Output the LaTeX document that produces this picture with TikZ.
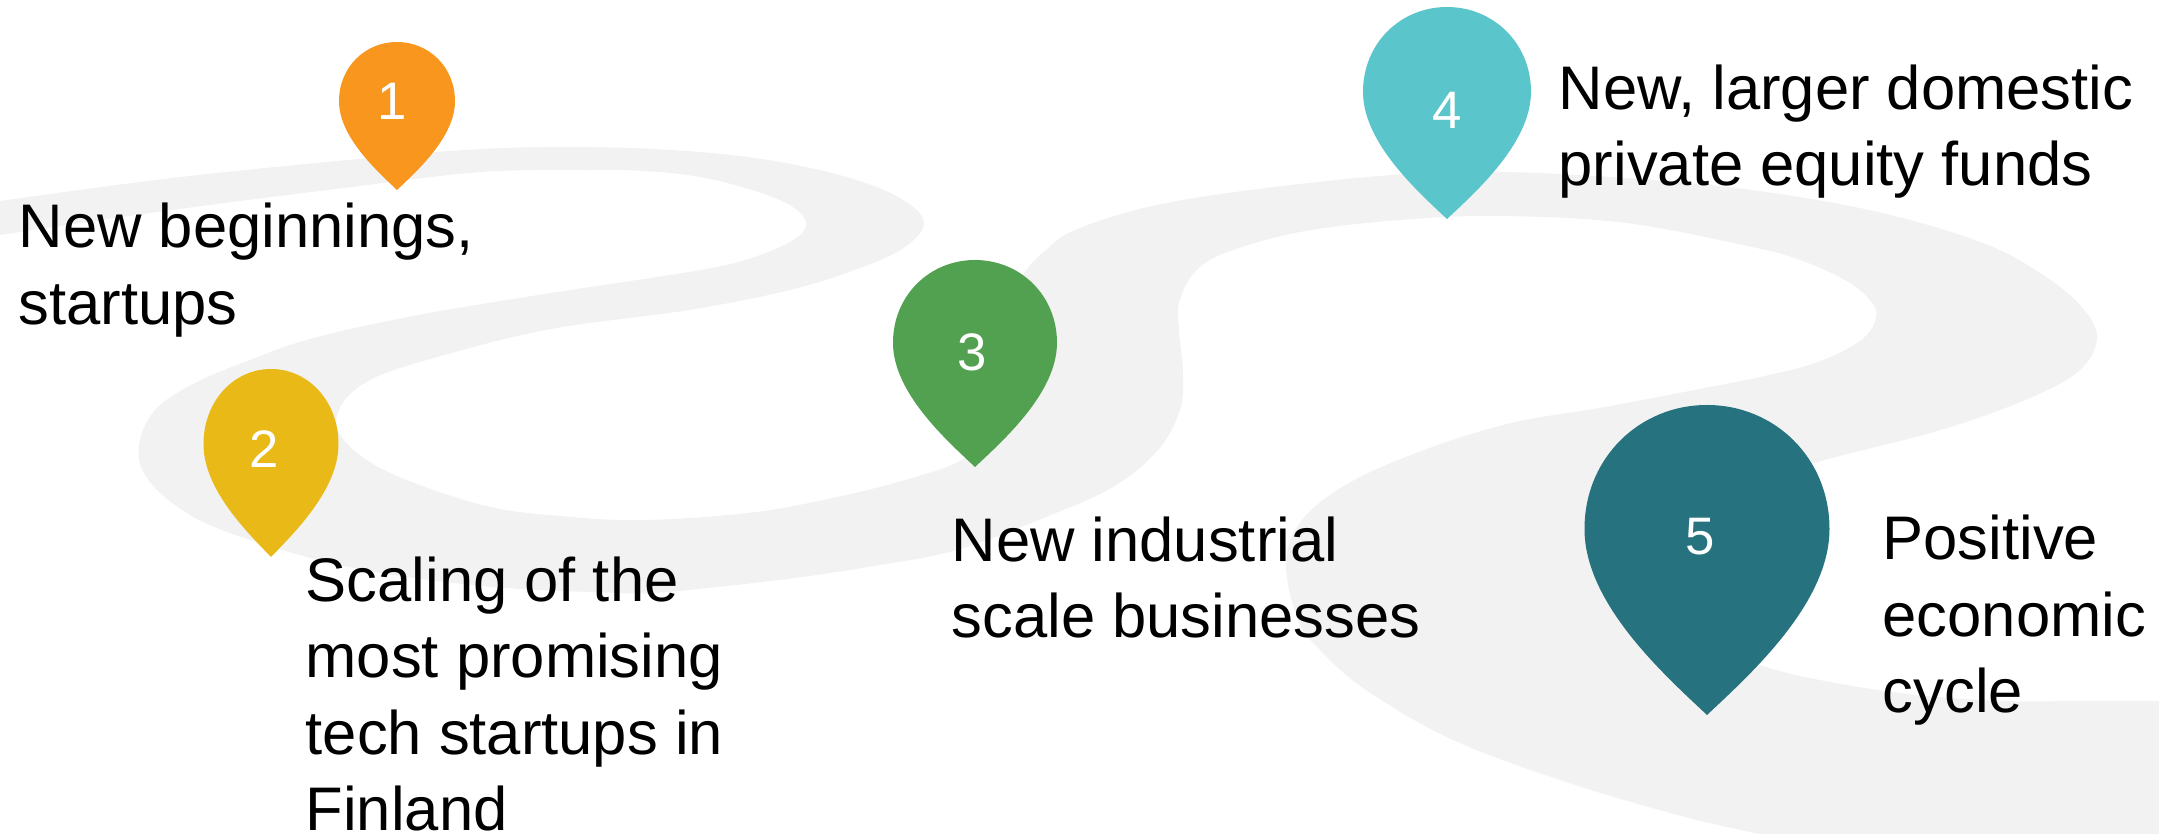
\documentclass[tikz,border=0pt]{standalone}
\usepackage{fontspec}
\setmainfont{Liberation Sans}
\usetikzlibrary{
	positioning
}

\definecolor{roadgrey}{HTML}{F2F2F2}
\definecolor{pinorange}{HTML}{F9961E}
\definecolor{pinyellow}{HTML}{E9B918}
\definecolor{pingreen}{HTML}{52A150}
\definecolor{pinaqua}{HTML}{5BC5CC}
\definecolor{pinteal}{HTML}{26727F}

\begin{document}
\begin{tikzpicture}[
			x=0.01cm, y=-0.01cm,
			caption/.style={
				anchor=base west,
				align=left,
				inner sep=0,
				font=\fontsize{17.5}{21.8}\selectfont
			},
			pinnumber/.style={
				inner sep=0,
				text=white,
				font=\fontsize{15}{18}\selectfont
			}]

			\useasboundingbox (0,0) rectangle (2159,834);

			% The road
			\fill [roadgrey]
				plot [smooth, tension=0.6] coordinates {
					(0,201) (172,178) (358,159) (482,149) (592,147) (700,152) (780,162) (850,178)
					(900,198) (924,222) (905,247) (860,268) (790,290) (689,310) (551,329) (441,356)
					(372,379) (341,406) (341,436) (386,471) (482,505) (560,516) (645,520) (756,512)
					(846,495) (912,478) (962,460) (1000,430) (1015,390) (1010,340) (1005,310)
					(1024,273) (1046,250) (1075,230) (1148,207) (1250,190) (1392,175) (1500,172)
					(1626,178) (1752,190) (1878,212) (1983,243) (2040,273) (2080,305) (2097,337)
					(2080,370) (2030,398) (1941,430) (1815,463) (1750,490) (1700,540) (1690,600)
					(1710,640) (1760,665) (1830,682) (1917,695) (2004,701) (2080,701) (2159,701)
				}
				-- (2159,834) -- (1760,834) --
				plot [smooth, tension=0.6] coordinates {
					(1760,834) (1685,817) (1569,783) (1453,740) (1366,690) (1320,650) (1298,620)
					(1286,563) (1302,520) (1349,483) (1424,450) (1511,423) (1605,407) (1710,387)
					(1760,377) (1815,363) (1860,341) (1876,318) (1870,300) (1845,280) (1800,260)
					(1752,247) (1626,223) (1500,216) (1400,220) (1300,232) (1225,253) (1194,273)
					(1179,303) (1179,330) (1183,373) (1180,410) (1158,450) (1113,487) (1046,517)
					(957,550) (868,567) (779,580) (667,592) (620,593) (482,586) (344,566) (227,532)
					(175,505) (145,475) (139,445) (155,410) (195,383) (250,360) (310,339) (413,316)
					(551,293) (689,272) (745,260) (790,242) (806,225) (793,207) (755,191) (700,177)
					(645,171) (592,170) (482,172) (344,188) (172,210) (0,235)
				} -- cycle;

			% Draw the pins on top of the road
			\foreach \pinid/\tone/\tipx/\tipy/\halfw/\tall/\numx/\numy in {
				1/pinorange/397/190/58/148/392/101,
				2/pinyellow/271/557/67.5/188/264/449,
				3/pingreen/975/467/82/207/972/352,
				4/pinaqua/1447/219/84/212/1447/110,
				5/pinteal/1707/715/122.5/310/1700/537} {
				\begin{scope}[shift={(\tipx,\tipy)}, xscale=\halfw, yscale=\tall]
					\fill [\tone] (0,0) .. controls (-0.35,-0.13) and (-1,-0.36) .. (-1,-0.6)
						.. controls (-1,-0.83) and (-0.55,-1) .. (0,-1)
						.. controls (0.55,-1) and (1,-0.83) .. (1,-0.6)
						.. controls (1,-0.36) and (0.35,-0.13) .. (0,0) -- cycle;
				\end{scope}
				\node [pinnumber] (pin\pinid) at (\numx,\numy) {\pinid};
			};

			\node [caption] (capOne) at (18,324.5) {New beginnings,\\startups};
			\node [caption] (capTwo) at (305,831) {Scaling of the\\most promising\\tech startups in\\Finland};
			\node [caption] (capThree) at (951,638) {New industrial\\scale businesses};
			\node [caption] (capFour) at (1558,186) {New, larger domestic\\private equity funds};
			\node [caption] (capFive) at (1882,713) {Positive\\economic\\cycle};

		\end{tikzpicture}
\end{document}
